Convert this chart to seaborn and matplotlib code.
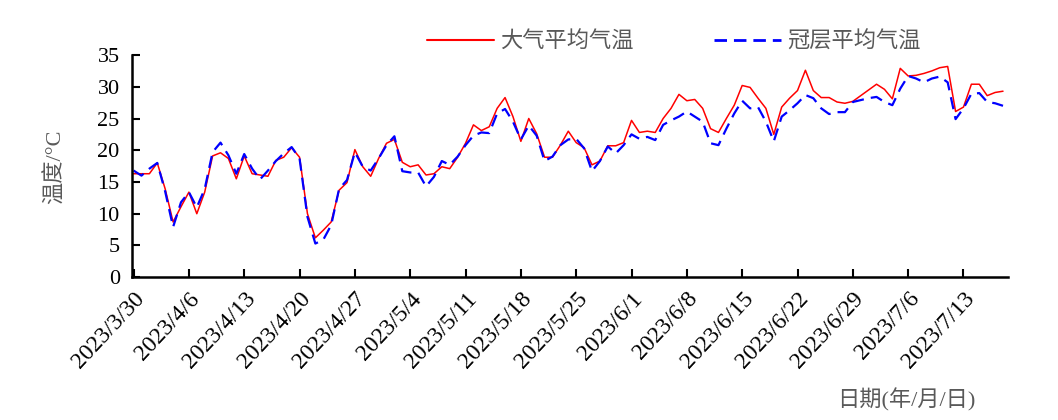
import pandas as pd
import numpy as np
import matplotlib
matplotlib.use('Agg')
import matplotlib.pyplot as plt
import seaborn as sns

# daily values from 2023/3/30 to 2023/7/18
start_date = '2023-03-30'
air_temp = [16.3, 16.3, 16.3, 18.0, 13.9, 8.7, 11.1, 13.4, 10.0, 13.4, 19.1, 19.6, 18.7, 15.5, 19.1, 16.3, 16.1, 15.9, 18.4,
            18.9, 20.4, 18.9, 10.0, 6.2, 7.4, 8.7, 13.7, 14.9, 20.1, 17.4, 15.9, 18.7, 21.1, 21.7, 18.1, 17.4, 17.7,
            16.1, 16.3, 17.4, 17.1, 18.9, 21.1, 24.0, 23.1, 23.7, 26.6, 28.3, 25.3, 21.4, 25.0, 22.6, 18.9, 18.9, 20.8,
            23.0, 21.2, 20.4, 17.7, 18.3, 20.7, 20.7, 21.2, 24.7, 22.8, 23.0, 22.8, 25.0, 26.6, 28.8, 27.8, 28.0, 26.6,
            23.4, 22.8, 25.0, 27.1, 30.2, 29.9, 28.2, 26.6, 22.5, 26.8, 28.2, 29.4, 32.6, 29.4, 28.3, 28.3, 27.6, 27.4,
            27.7, 28.6, 29.5, 30.4, 29.6, 28.1, 32.9, 31.7, 31.8, 32.1, 32.5, 33.0, 33.2, 26.1, 26.8, 30.4, 30.4, 28.6, 29.1, 29.3]
canopy_temp = [16.8, 16.0, 17.1, 18.0, 13.5, 7.9, 11.8, 13.4, 11.0, 13.9, 19.7, 21.2, 19.2, 16.3, 19.4, 17.1, 15.4, 16.8, 18.3,
               19.5, 20.5, 18.7, 9.5, 5.3, 5.9, 8.2, 13.9, 15.3, 19.7, 17.4, 16.8, 18.7, 20.8, 22.2, 16.7, 16.5, 16.5,
               14.3, 15.8, 18.3, 17.7, 19.0, 20.8, 22.3, 22.8, 22.7, 25.8, 26.5, 24.5, 21.7, 23.9, 22.3, 18.3, 19.0, 20.8,
               21.7, 21.8, 20.3, 16.7, 18.3, 20.6, 19.5, 20.8, 22.5, 21.8, 22.1, 21.6, 24.0, 24.7, 25.3, 26.1, 25.3, 24.5,
               21.1, 20.8, 23.4, 25.8, 27.8, 26.6, 26.8, 24.5, 21.4, 25.3, 26.3, 27.4, 28.7, 28.2, 26.6, 25.7, 26.0, 26.0,
               27.6, 27.9, 28.2, 28.4, 27.6, 27.1, 29.7, 31.7, 31.3, 30.7, 31.3, 31.6, 30.7, 24.9, 26.6, 28.9, 29.0, 27.6, 27.4, 27.0]
series_names = ['大气平均气温', '冠层平均气温']
y_ticks = [0, 5, 10, 15, 20, 25, 30, 35]

dates = pd.date_range(start_date, periods=len(air_temp), freq='D')
df = pd.DataFrame({'date': dates, series_names[0]: air_temp, series_names[1]: canopy_temp})
long_df = df.melt(id_vars='date', var_name='series', value_name='temp')

sns.set_style('ticks')
plt.rcParams['font.family'] = ['Liberation Serif', 'Noto Sans CJK SC']
plt.rcParams['axes.unicode_minus'] = False

fig = plt.figure(figsize=(10.58, 4.2), dpi=100)
ax = fig.add_axes([0.125, 0.34, 0.828, 0.529])

sns.lineplot(data=long_df, x='date', y='temp', hue='series', style='series',
             palette={series_names[0]: '#FF0000', series_names[1]: '#0000FF'},
             dashes={series_names[0]: '', series_names[1]: (5.5, 3.2)},
             size='series', sizes={series_names[0]: 1.1, series_names[1]: 1.6},
             ax=ax, legend=False)

ax.set_ylim(0, 35)
ax.set_yticks(y_ticks)
ax.set_xlim(dates[0] - pd.Timedelta(hours=4), dates[-1] + pd.Timedelta(hours=16))
tick_dates = pd.date_range(start_date, '2023-07-13', freq='7D')
ax.set_xticks(tick_dates)
ax.set_xticklabels([f'{d.year}/{d.month}/{d.day}' for d in tick_dates],
                   rotation=47, ha='right', rotation_mode='anchor')
ax.tick_params(axis='both', direction='in', length=6, width=1.5, colors='black')
ax.tick_params(axis='x', pad=8, labelsize=17)
ax.tick_params(axis='y', pad=9, labelsize=16)
for s in ['top', 'right']:
    ax.spines[s].set_visible(False)
for s in ['left', 'bottom']:
    ax.spines[s].set_linewidth(1.8)
    ax.spines[s].set_color('black')
ax.set_xlabel('')
ax.set_ylabel('')

fig.text(55 / 1058, 1 - 167 / 420, '温度/°C', rotation=90, ha='center', va='center',
         fontsize=16, color='#595959')
fig.text(975 / 1058, 1 - 400 / 420, '日期(年/月/日)', ha='right', va='center',
         fontsize=16, color='#595959')

handles = [plt.Line2D([], [], color='#FF0000', lw=1.5),
           plt.Line2D([], [], color='#0000FF', lw=2.0, dashes=(4.5, 2.5))]
fig.legend(handles, series_names, loc='center', bbox_to_anchor=(0.637, 1 - 42 / 420),
           ncol=2, frameon=False, fontsize=16, handlelength=3.0, handletextpad=0.3,
           columnspacing=3.6, labelcolor='#595959')

fig.savefig('out.png', dpi=100)
